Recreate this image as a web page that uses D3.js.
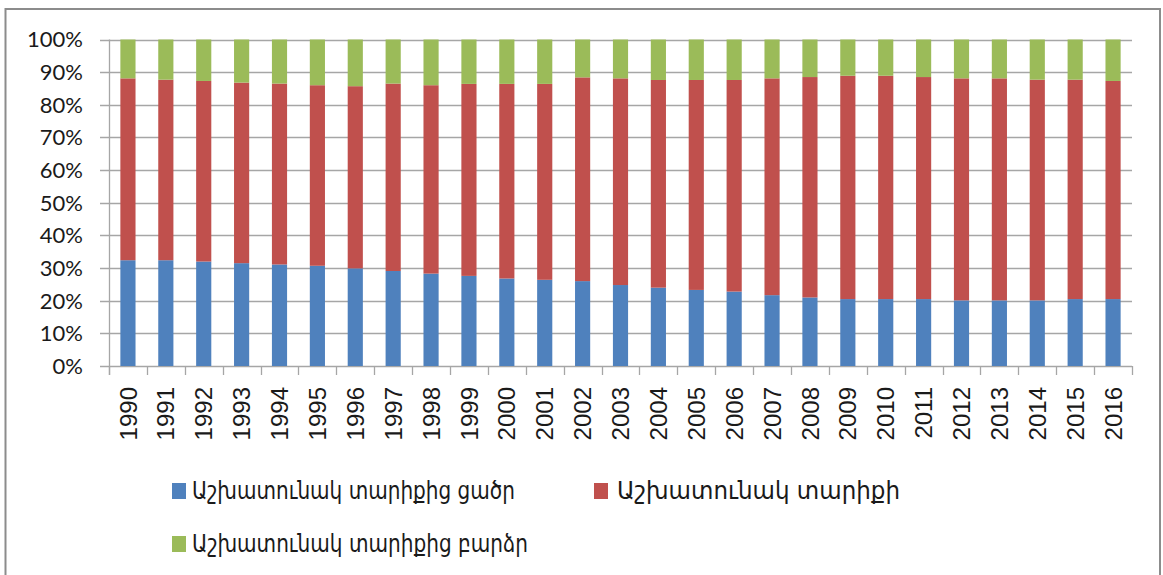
<!DOCTYPE html>
<html><head><meta charset="utf-8">
<script src="https://cdn.jsdelivr.net/npm/d3@7"></script>
<style>
html,body{margin:0;padding:0;background:#fff;}
svg{display:block;}
</style></head>
<body>
<svg id="chart" width="1163" height="575"></svg>
<script>
const years = ["1990","1991","1992","1993","1994","1995","1996","1997","1998","1999","2000","2001","2002","2003","2004","2005","2006","2007","2008","2009","2010","2011","2012","2013","2014","2015","2016"];
const seriesNames = ["Աշխատունակ տարիքից ցածր","Աշխատունակ տարիքի","Աշխատունակ տարիքից բարձր"];
const belowWorking = [32.4,32.4,32.0,31.5,31.1,30.7,29.9,29.1,28.3,27.6,26.8,26.4,26.0,24.8,24.0,23.3,22.8,21.7,21.0,20.5,20.5,20.5,20.1,20.1,20.1,20.5,20.5];
const workingAge = [55.7,55.3,55.3,55.3,55.4,55.3,55.8,57.4,57.7,58.8,59.6,60.0,62.4,63.3,63.6,64.3,64.8,66.4,67.5,68.4,68.4,68.0,68.0,68.0,67.6,67.2,66.8];
const aboveWorking = [11.9,12.3,12.7,13.2,13.5,14.0,14.3,13.5,14.0,13.6,13.6,13.6,11.6,11.9,12.4,12.4,12.4,11.9,11.5,11.1,11.1,11.5,11.9,11.9,12.3,12.3,12.7];
const yTicks = [0,0.1,0.2,0.3,0.4,0.5,0.6,0.7,0.8,0.9,1];
const colors = ["#4F81BD","#C0504D","#9BBB59"];

(function(){
const svg = d3.select("#chart");
const gridColor = "#A6A6A6";

// outer frame
svg.append("rect").attr("x",5.5).attr("y",9).attr("width",1154.5).attr("height",580)
  .attr("fill","none").attr("stroke","#8C8C8C").attr("stroke-width",2);

const pLeft = 109, pRight = 1132, pTop = 39.5, pBottom = 366;
const table = years.map((y,i)=>({year:y, a:belowWorking[i], b:workingAge[i], c:aboveWorking[i]}));
const stack = d3.stack().keys(["a","b","c"]).offset(d3.stackOffsetExpand);
const layers = stack(table);

const x = d3.scaleBand().domain(years).range([pLeft,pRight]).paddingInner(0.6).paddingOuter(0.3);
const xb = d3.scaleBand().domain(years).range([pLeft,pRight]);
const y = d3.scaleLinear().domain([0,1]).range([pBottom,pTop]);

// gridlines
svg.append("g").selectAll("line").data(yTicks).join("line")
  .attr("x1",pLeft-9).attr("x2",pRight).attr("y1",d=>Math.round(y(d))+0.5).attr("y2",d=>Math.round(y(d))+0.5)
  .attr("stroke",gridColor).attr("stroke-width",1.3);

// bars
svg.append("g").selectAll("g").data(layers).join("g").attr("fill",(d,i)=>colors[i])
  .selectAll("rect").data(d=>d).join("rect")
  .attr("x",d=>x(d.data.year)).attr("width",x.bandwidth())
  .attr("y",d=>y(d[1])).attr("height",d=>y(d[0])-y(d[1]));

// y axis line
svg.append("line").attr("x1",pLeft+0.5).attr("x2",pLeft+0.5).attr("y1",pTop).attr("y2",pBottom+9)
  .attr("stroke",gridColor).attr("stroke-width",1.3);

// x tick marks at band boundaries
const bounds = years.map(d=>xb(d)).concat([pRight]);
svg.append("g").selectAll("line").data(bounds).join("line")
  .attr("x1",d=>Math.round(d)+0.5).attr("x2",d=>Math.round(d)+0.5).attr("y1",pBottom).attr("y2",pBottom+9)
  .attr("stroke",gridColor).attr("stroke-width",1.3);

// y labels
const fmt = d3.format(".0%");
svg.append("g").selectAll("text").data(yTicks).join("text")
  .attr("x",83).attr("y",d=>y(d)).attr("dy","0.36em").attr("text-anchor","end")
  .attr("font-family","Lato, 'Liberation Sans', sans-serif").attr("font-size",22).attr("fill","#1a1a1a")
  .text(d=>fmt(d));

// x labels
svg.append("g").selectAll("text").data(years).join("text")
  .attr("transform",d=>`translate(${xb(d)+xb.bandwidth()/2},${387}) rotate(-90)`)
  .attr("text-anchor","end").attr("dy","0.36em")
  .attr("font-family","'Liberation Sans', Arial, sans-serif").attr("font-size",24).attr("fill","#1a1a1a")
  .text(d=>d);

// legend
const legendItems = [
  {name:seriesNames[0], color:colors[0], sx:172, cy:491, tx:192, w:323},
  {name:seriesNames[1], color:colors[1], sx:594, cy:491, tx:617, w:283},
  {name:seriesNames[2], color:colors[2], sx:172, cy:544, tx:192, w:336}
];
const lg = svg.append("g").selectAll("g").data(legendItems).join("g");
lg.append("rect").attr("x",d=>d.sx).attr("y",d=>d.cy-8).attr("width",14).attr("height",16).attr("fill",d=>d.color);
lg.append("text").attr("x",d=>d.tx).attr("y",d=>d.cy).attr("dy","0.33em")
  .attr("font-family","'DejaVu Sans', 'Noto Sans', sans-serif").attr("font-size",25).attr("fill","#1a1a1a")
  .attr("textLength",d=>d.w).attr("lengthAdjust","spacingAndGlyphs")
  .text(d=>d.name);
})();
</script>
</body></html>
